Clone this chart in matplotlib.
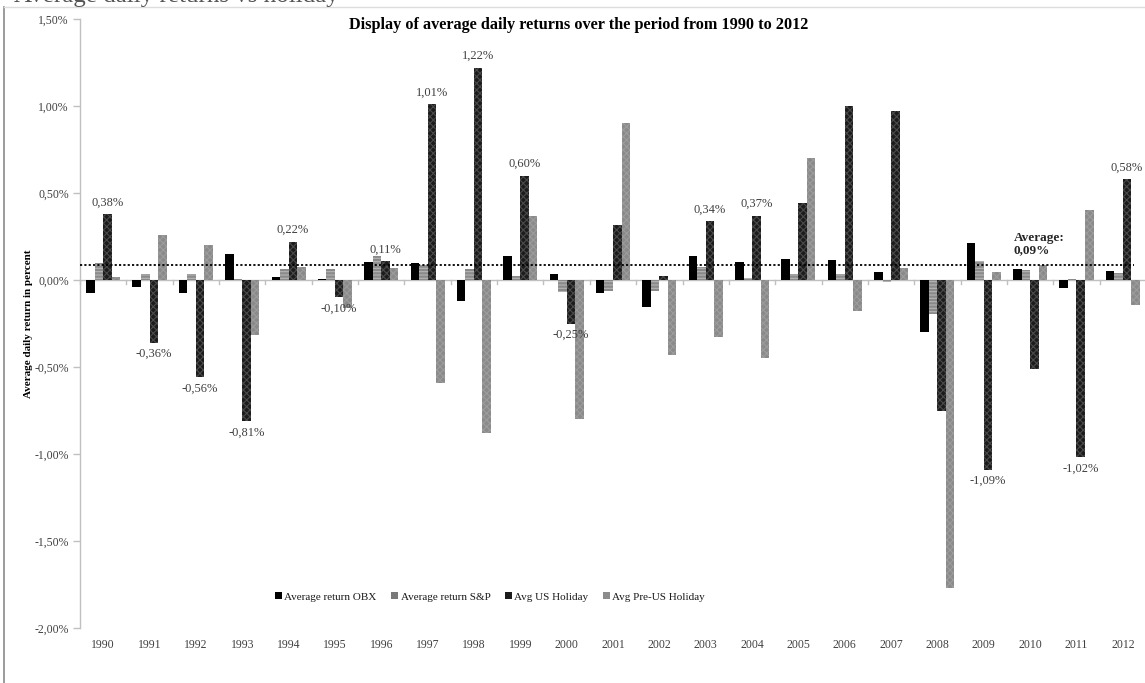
import matplotlib
matplotlib.use("Agg")
import matplotlib.pyplot as plt
from matplotlib.patches import Patch
from matplotlib.lines import Line2D
import numpy as np

years = [str(y) for y in range(1990, 2013)]
obx = [-0.073, -0.038, -0.077, 0.15, 0.015, 0.004, 0.105, 0.096, -0.121, 0.14, 0.034, -0.077,
       -0.157, 0.136, 0.105, 0.119, 0.113, 0.048, -0.30, 0.21, 0.063, -0.044, 0.05]
sp = [0.096, 0.033, 0.033, 0.008, 0.063, 0.063, 0.136, 0.086, 0.063, 0.023, -0.067, -0.061,
      -0.061, 0.077, 0.013, 0.033, 0.033, -0.013, -0.197, 0.109, 0.057, 0.003, 0.042]
us_holiday = [0.38, -0.36, -0.56, -0.81, 0.22, -0.10, 0.11, 1.01, 1.22, 0.60, -0.25, 0.316,
              0.021, 0.34, 0.37, 0.44, 1.00, 0.973, -0.753, -1.09, -0.51, -1.02, 0.58]
pre_us_holiday = [0.015, 0.26, 0.20, -0.318, 0.073, -0.16, 0.071, -0.594, -0.88, 0.368, -0.80, 0.90,
                  -0.433, -0.33, -0.446, 0.70, -0.178, 0.071, -1.77, 0.048, 0.088, 0.40, -0.144]
us_labels = ["0,38%", "-0,36%", "-0,56%", "-0,81%", "0,22%", "-0,10%", "0,11%", "1,01%", "1,22%",
             "0,60%", "-0,25%", None, None, "0,34%", "0,37%", None, None, None, None,
             "-1,09%", None, "-1,02%", "0,58%"]
average_value = 0.085
average_label = "Average:\n0,09%"
series_names = ["Average return OBX", "Average return S&P", "Avg US Holiday", "Avg Pre-US Holiday"]
yticks = [1.5, 1.0, 0.5, 0.0, -0.5, -1.0, -1.5, -2.0]
ytick_labels = ["1,50%", "1,00%", "0,50%", "0,00%", "-0,50%", "-1,00%", "-1,50%", "-2,00%"]
title = "Display of average daily returns over the period from 1990 to 2012"
ylabel = "Average daily return in percent"
header = "Average daily returns vs holiday"

plt.rcParams['font.family'] = ['Liberation Serif', 'DejaVu Serif']
plt.rcParams['hatch.linewidth'] = 0.8

W, H = 1145, 683
fig = plt.figure(figsize=(W / 100, H / 100), dpi=100)
left_px, right_px, top_px, bot_px = 80, 1146, 19, 628
ax = fig.add_axes([left_px / W, 1 - bot_px / H, (right_px - left_px) / W, (bot_px - top_px) / H])

x = np.arange(len(years))
w = 0.184
styles = [
    dict(color="#000000", hatch=None, ec="#000000"),
    dict(color="#8a8a8a", hatch="-----", ec="#b5b5b5"),
    dict(color="#1c1c1c", hatch="xxxxx", ec="#4a4a4a"),
    dict(color="#8a8a8a", hatch="xxxxx", ec="#9c9c9c"),
]
data = [obx, sp, us_holiday, pre_us_holiday]
for i, (vals, st) in enumerate(zip(data, styles)):
    ax.bar(x + (i - 1.5) * w, vals, width=w, color=st["color"], hatch=st["hatch"],
           edgecolor=st["ec"], linewidth=0, zorder=3)

# data labels on US holiday bars
for xi, v, lab in zip(x, us_holiday, us_labels):
    if lab is None:
        continue
    xc = xi + 0.5 * w
    if v >= 0:
        ax.annotate(lab, (xc, v), xytext=(0, 4), textcoords="offset points", ha="center",
                    va="bottom", fontsize=9, color="#404040", zorder=5)
    else:
        ax.annotate(lab, (xc, v), xytext=(0, -4), textcoords="offset points", ha="center",
                    va="top", fontsize=9, color="#404040", zorder=5)

# average line
ax.axhline(average_value, xmin=0, xmax=0.989, color="#000000", linestyle=(0, (1.2, 1.2)),
           linewidth=1.3, zorder=4)
ax.text(19.64, average_value + 0.05, average_label, ha="left", va="bottom", fontsize=9.5,
        fontweight="bold", color="#262626", linespacing=1.05, zorder=5)

# zero axis line with category ticks
ax.axhline(0, color="#c0c0c0", linewidth=1.0, zorder=2)
for b in np.arange(-0.5, len(years), 1.0):
    ax.plot([b, b], [0, -0.025], color="#c0c0c0", linewidth=1.0, zorder=2, clip_on=False)

ax.set_xlim(-0.5, len(years) - 0.5)
ax.set_ylim(-2.0, 1.5)
ax.set_yticks(yticks)
ax.set_yticklabels(ytick_labels, fontsize=8.5, color="#404040")
ax.set_xticks(x)
ax.set_xticklabels(years, fontsize=8.5, color="#404040")
ax.tick_params(axis="x", length=0, pad=8)
ax.tick_params(axis="y", length=5, width=1, color="#c0c0c0", pad=3, direction="out")
for s in ["top", "right", "bottom"]:
    ax.spines[s].set_visible(False)
ax.spines["left"].set_color("#c0c0c0")
ax.spines["left"].set_linewidth(1.0)

ax.set_ylabel(ylabel, fontsize=8, fontweight="bold", color="#000000")
ax.yaxis.set_label_coords(-0.044, 0.5)

fig.text(579 / W, 1 - 25 / H, title, ha="center", va="center", fontsize=11.7,
         fontweight="bold", color="#000000")

# legend
handles = [Patch(facecolor=c) for c in ["#000000", "#7a7a7a", "#1c1c1c", "#8c8c8c"]]
leg = fig.legend(handles, series_names, loc="center", bbox_to_anchor=(490 / W, 1 - 597 / H),
                 ncol=4, frameon=False, fontsize=8, handlelength=0.6, handleheight=0.6,
                 handletextpad=0.25, columnspacing=1.3, labelcolor="#1a1a1a")

# page frame and cut-off header text from the source page
fig.add_artist(Line2D([4 / W, 4 / W], [0, 1 - 7 / H], transform=fig.transFigure,
                      color="#8a8a8a", linewidth=1.2))
fig.add_artist(Line2D([4 / W, 1], [1 - 7 / H, 1 - 7 / H], transform=fig.transFigure,
                      color="#dddddd", linewidth=1.0))
fig.text(14 / W, 1 - 2 / H, header, ha="left", va="baseline", fontsize=18, color="#555555")

fig.savefig("out.png", dpi=100, facecolor="white")
